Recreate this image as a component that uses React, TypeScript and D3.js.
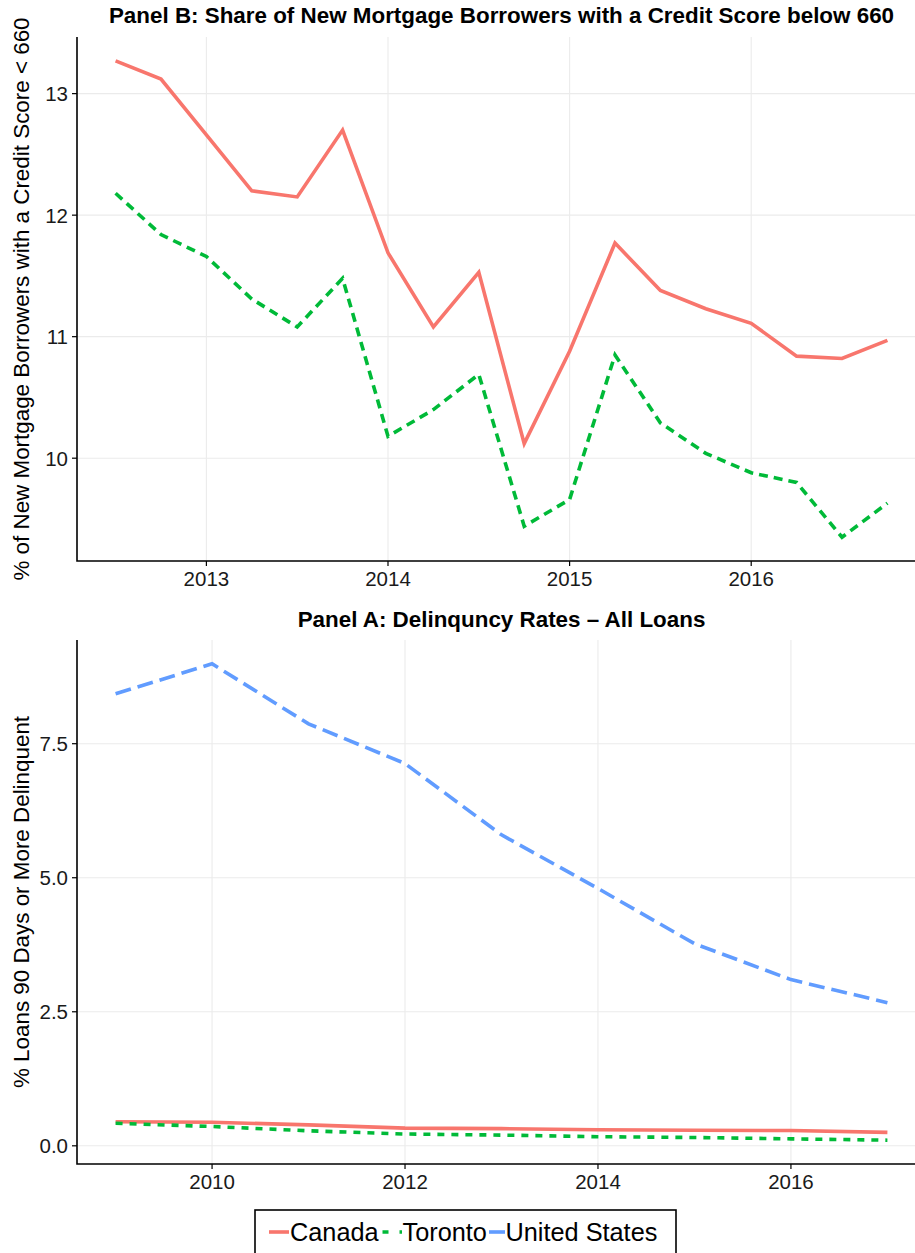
import React from 'react';
import { scaleLinear, line, extent } from 'd3';

// Panel B: quarterly share of new mortgage borrowers with score < 660
const quarters = [
  2012.5, 2012.75, 2013, 2013.25, 2013.5, 2013.75, 2014, 2014.25, 2014.5,
  2014.75, 2015, 2015.25, 2015.5, 2015.75, 2016, 2016.25, 2016.5, 2016.75,
];
const canadaShare = [
  13.27, 13.12, 12.66, 12.2, 12.15, 12.7, 11.69, 11.08, 11.53,
  10.12, 10.88, 11.77, 11.38, 11.23, 11.11, 10.84, 10.82, 10.97,
];
const torontoShare = [
  12.18, 11.84, 11.66, 11.31, 11.08, 11.48, 10.18, 10.4, 10.69,
  9.44, 9.66, 10.85, 10.29, 10.04, 9.88, 9.8, 9.35, 9.63,
];
const shareXTicks = [2013, 2014, 2015, 2016];
const shareYTicks = [10, 11, 12, 13];

// Panel A: annual delinquency rates
const years = [2009, 2010, 2011, 2012, 2013, 2014, 2015, 2016, 2017];
const canadaDelinq = [0.45, 0.44, 0.39, 0.33, 0.32, 0.3, 0.29, 0.285, 0.25];
const torontoDelinq = [0.42, 0.36, 0.28, 0.22, 0.2, 0.17, 0.155, 0.13, 0.105];
const usDelinq = [8.43, 8.99, 7.87, 7.13, 5.8, 4.8, 3.77, 3.1, 2.67];
const delinqXTicks = [2010, 2012, 2014, 2016];
const delinqYTicks = [0, 2.5, 5, 7.5];

const seriesNames = ['Canada', 'Toronto', 'United States'];
const seriesColors = ['#F8766D', '#00BA38', '#619CFF'];

const FONT = '"Liberation Sans", Arial, Helvetica, sans-serif';

// ggplot style 5% expansion of a domain
const expand = (vals: number[]): [number, number] => {
  const [lo, hi] = extent(vals) as [number, number];
  const pad = (hi - lo) * 0.05;
  return [lo - pad, hi + pad];
};

type Series = { values: number[]; color: string; dash?: string };

const Panel = ({
  title, yLabel, xs, series, xTicks, yTicks, yFormat, top, bottom, titleY,
}: {
  title: string; yLabel: string; xs: number[]; series: Series[];
  xTicks: number[]; yTicks: number[]; yFormat: (v: number) => string;
  top: number; bottom: number; titleY: number;
}) => {
  const left = 77;
  const right = 926;
  const x = scaleLinear().domain(expand(xs)).range([left, right]);
  const y = scaleLinear()
    .domain(expand(series.flatMap((s) => s.values)))
    .range([bottom, top]);
  const path = line<number>()
    .x((_, i) => x(xs[i]))
    .y((d) => y(d));

  return (
    <g>
      <text
        x={(left + right) / 2}
        y={titleY}
        textAnchor="middle"
        fontWeight="bold"
        fontSize={22.4}
        fontFamily={FONT}
      >
        {title}
      </text>

      {/* grid */}
      {yTicks.map((t) => (
        <line key={'gy' + t} x1={left} x2={right} y1={y(t)} y2={y(t)} stroke="#ebebeb" strokeWidth={1.1} />
      ))}
      {xTicks.map((t) => (
        <line key={'gx' + t} x1={x(t)} x2={x(t)} y1={top} y2={bottom} stroke="#ebebeb" strokeWidth={1.1} />
      ))}

      {series.map((s, i) => (
        <path
          key={i}
          d={path(s.values) || ''}
          fill="none"
          stroke={s.color}
          strokeWidth={3.6}
          strokeDasharray={s.dash}
        />
      ))}

      {/* axes */}
      <path d={`M${left},${top}V${bottom}H${right}`} fill="none" stroke="#000" strokeWidth={1.6} />
      {yTicks.map((t) => (
        <g key={'ty' + t}>
          <line x1={left - 5} x2={left} y1={y(t)} y2={y(t)} stroke="#000" strokeWidth={1.2} />
          <text x={left - 9} y={y(t)} dy="0.36em" textAnchor="end" fontSize={20.5} fontFamily={FONT} fill="#1a1a1a">
            {yFormat(t)}
          </text>
        </g>
      ))}
      {xTicks.map((t) => (
        <g key={'tx' + t}>
          <line x1={x(t)} x2={x(t)} y1={bottom} y2={bottom + 5} stroke="#000" strokeWidth={1.2} />
          <text x={x(t)} y={bottom + 24.5} textAnchor="middle" fontSize={20.5} fontFamily={FONT} fill="#1a1a1a">
            {t}
          </text>
        </g>
      ))}
      <text
        transform={`translate(28.5, ${(top + bottom) / 2}) rotate(-90)`}
        textAnchor="middle"
        fontSize={22.4}
        fontFamily={FONT}
      >
        {yLabel}
      </text>
    </g>
  );
};

export default function App() {
  const legendKeys = [
    { x1: 269, x2: 289, tx: 290, dash: undefined },
    { x1: 382.5, x2: 402, tx: 402.5, dash: '6,11,3,20' },
    { x1: 489, x2: 505, tx: 505.5, dash: undefined },
  ];
  return (
    <svg
      width={915}
      height={1253}
      style={{ position: 'absolute', left: 0, top: 0, background: '#fff' }}
    >
      <Panel
        title="Panel B: Share of New Mortgage Borrowers with a Credit Score below 660"
        yLabel="% of New Mortgage Borrowers with a Credit Score < 660"
        xs={quarters}
        series={[
          { values: canadaShare, color: seriesColors[0] },
          { values: torontoShare, color: seriesColors[1], dash: '9,6' },
        ]}
        xTicks={shareXTicks}
        yTicks={shareYTicks}
        yFormat={(v) => String(v)}
        top={37}
        bottom={561}
        titleY={23}
      />
      <Panel
        title="Panel A: Delinquncy Rates – All Loans"
        yLabel="% Loans 90 Days or More Delinquent"
        xs={years}
        series={[
          { values: usDelinq, color: seriesColors[2], dash: '16,7' },
          { values: canadaDelinq, color: seriesColors[0] },
          { values: torontoDelinq, color: seriesColors[1], dash: '7,7' },
        ]}
        xTicks={delinqXTicks}
        yTicks={delinqYTicks}
        yFormat={(v) => v.toFixed(1)}
        top={640}
        bottom={1164}
        titleY={627}
      />

      {/* legend */}
      <rect x={255} y={1210} width={421} height={60} fill="#fff" stroke="#000" strokeWidth={1.6} />
      {seriesNames.map((name, i) => (
        <g key={name}>
          <line
            x1={legendKeys[i].x1}
            x2={legendKeys[i].x2}
            y1={1232}
            y2={1232}
            stroke={seriesColors[i]}
            strokeWidth={3.6}
            strokeDasharray={legendKeys[i].dash}
          />
          <text x={legendKeys[i].tx} y={1241} fontSize={25.3} fontFamily={FONT}>
            {name}
          </text>
        </g>
      ))}
    </svg>
  );
}
